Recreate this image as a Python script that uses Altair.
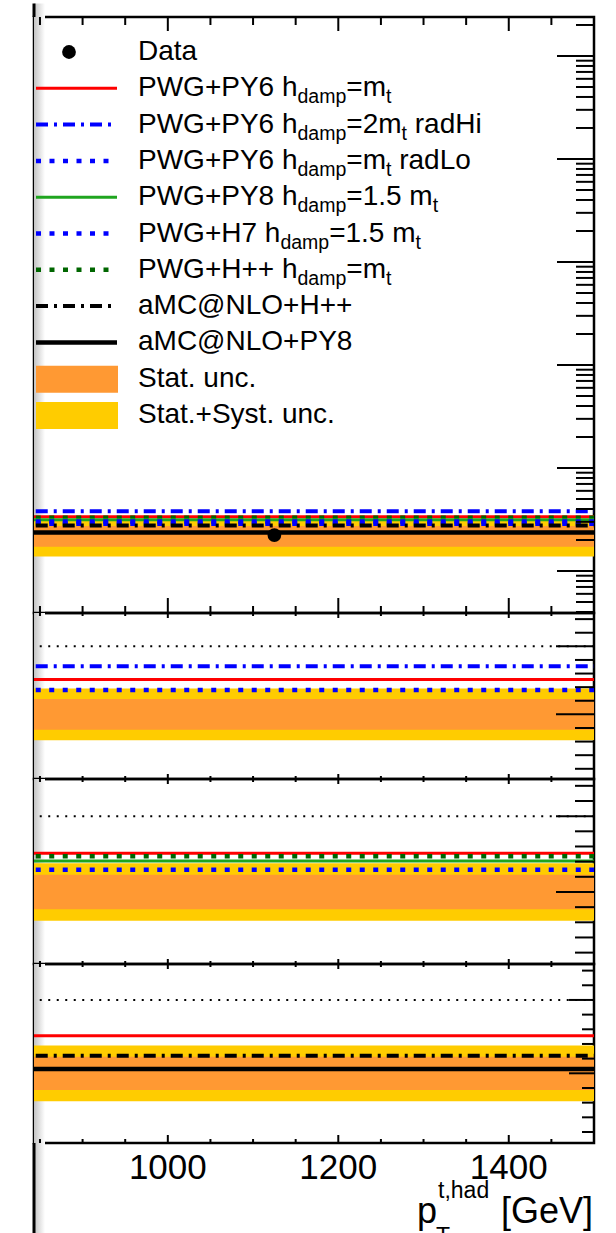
import altair as alt
import pandas as pd

# ---------------- data ----------------
bin_edges = [750, 1500]          # the single visible bin
data_x = [1125]
data_xsec = [2.23e-4]
stat_rel_unc = 0.227
tot_rel_unc = 0.38

model_keys = ["py6", "radhi", "radlo", "py8", "h7", "hpp", "amc_hpp", "amc_py8"]
pred_xsec = [3.37e-4, 3.81e-4, 3.03e-4, 3.14e-4, 2.88e-4, 3.28e-4, 2.76e-4, 2.36e-4]

ratio_panels = [["py6", "radhi", "radlo"],
                ["py6", "hpp", "py8", "h7"],
                ["py6", "amc_hpp", "amc_py8"]]
ratio_ref = [2.0]

x_major = [1000, 1200, 1400]
x_minor = [850, 900, 950, 1050, 1100, 1150, 1250, 1300, 1350, 1450, 1500]
x_labels = ["1000", "1200", "1400"]

top_major = [1e-4, 1e-3, 1e-2, 1e-1, 1.0, 10.0]
top_minor_mult = [2, 3, 4, 5, 6, 7, 8, 9]
top_minor_decades = [1e-5, 1e-4, 1e-3, 1e-2, 1e-1, 1.0, 10.0]
ratio_major = [1.0, 2.0]
ratio_minor = [0.2, 0.4, 0.6, 0.8, 1.2, 1.4, 1.6, 1.8, 2.2, 2.4]

X_DOMAIN = [843, 1500]
TOP_DOMAIN = [3.91e-5, 23.9]
RATIO_DOMAIN = [0.05, 2.49]

legend_rows = [
    [("Data", 0)],
    [("PWG+PY6 h", 0), ("damp", 1), ("=m", 0), ("t", 1)],
    [("PWG+PY6 h", 0), ("damp", 1), ("=2m", 0), ("t", 1), (" radHi", 0)],
    [("PWG+PY6 h", 0), ("damp", 1), ("=m", 0), ("t", 1), (" radLo", 0)],
    [("PWG+PY8 h", 0), ("damp", 1), ("=1.5 m", 0), ("t", 1)],
    [("PWG+H7 h", 0), ("damp", 1), ("=1.5 m", 0), ("t", 1)],
    [("PWG+H++ h", 0), ("damp", 1), ("=m", 0), ("t", 1)],
    [("aMC@NLO+H++", 0)],
    [("aMC@NLO+PY8", 0)],
    [("Stat. unc.", 0)],
    [("Stat.+Syst. unc.", 0)],
]
legend_models = ["py6", "radhi", "radlo", "py8", "h7", "hpp", "amc_hpp", "amc_py8"]

# ---------------- styles ----------------
FONT = "Liberation Sans"
RED, BLUE, GREEN, DGREEN = "#ff0000", "#0000ff", "#1fa51f", "#006600"
ORANGE, YELLOW = "#ff9933", "#ffcc00"
styles = {
    "py6": dict(color=RED, w=3, dash=None),
    "radhi": dict(color=BLUE, w=4, dash=[12, 6, 3, 6]),
    "radlo": dict(color=BLUE, w=4.5, dash=[5, 8.5]),
    "py8": dict(color=GREEN, w=3, dash=None),
    "h7": dict(color=BLUE, w=4.5, dash=[5, 8.5]),
    "hpp": dict(color=DGREEN, w=4.5, dash=[5, 8.5]),
    "amc_hpp": dict(color="black", w=4, dash=[12, 6, 3, 6]),
    "amc_py8": dict(color="black", w=4.5, dash=None),
}

W = 560
H_TOP, H_R = 596, [166, 185, 179]

xs = alt.Scale(domain=X_DOMAIN, nice=False, zero=False)
ys_top = alt.Scale(type="log", domain=TOP_DOMAIN, nice=False)
ys_rat = alt.Scale(domain=RATIO_DOMAIN, nice=False, zero=False)
one = pd.DataFrame({"k": [0]})

pred = dict(zip(model_keys, pred_xsec))


def band(lo, hi, color, ysc):
    df = pd.DataFrame({"x1": [bin_edges[0]], "x2": [bin_edges[1]], "lo": [lo], "hi": [hi]})
    return alt.Chart(df).mark_rect(color=color, clip=True, opacity=1).encode(
        x=alt.X("x1:Q", scale=xs, axis=None), x2="x2:Q",
        y=alt.Y("lo:Q", scale=ysc, axis=None), y2="hi:Q")


def hline(v, st, ysc):
    df = pd.DataFrame({"x1": [bin_edges[0]], "x2": [bin_edges[1]], "v": [v]})
    kw = dict(color=st["color"], strokeWidth=st["w"], clip=True, strokeCap="butt")
    if st["dash"]:
        kw["strokeDash"] = st["dash"]
    return alt.Chart(df).mark_rule(**kw).encode(
        x=alt.X("x1:Q", scale=xs, axis=None), x2="x2:Q",
        y=alt.Y("v:Q", scale=ysc, axis=None))


def yticks(vals, length, ysc):
    df = pd.DataFrame({"t": vals})
    return alt.Chart(df).mark_rule(color="black", strokeWidth=2).encode(
        y=alt.Y("t:Q", scale=ysc, axis=None), x=alt.value(W - length), x2=alt.value(W))


def xticks(vals, y0, y1):
    df = pd.DataFrame({"t": vals})
    return alt.Chart(df).mark_rule(color="black", strokeWidth=2).encode(
        x=alt.X("t:Q", scale=xs, axis=None), y=alt.value(y0), y2=alt.value(y1))


def shadow(y0, y1):
    grad = alt.Gradient(gradient="linear",
                        stops=[alt.GradientStop(color="#c4c4c4", offset=0),
                               alt.GradientStop(color="#ffffff", offset=1)],
                        x1=0, x2=1, y1=0, y2=0)
    return alt.Chart(one).mark_rect(color=grad).encode(
        x=alt.value(0), x2=alt.value(11), y=alt.value(y0), y2=alt.value(y1))


def vrule(y0, y1):
    return alt.Chart(one).mark_rule(color="black", strokeWidth=3).encode(
        x=alt.value(0), y=alt.value(y0), y2=alt.value(y1))


ARIAL = {' ': 278, '+': 584, '=': 584, '.': 278, ',': 278, '@': 1015, '[': 278, ']': 278,
         'C': 722, 'D': 722, 'G': 778, 'H': 722, 'L': 556, 'M': 833, 'N': 722, 'O': 778,
         'P': 667, 'S': 667, 'T': 611, 'V': 667, 'W': 944, 'Y': 667,
         'a': 556, 'c': 500, 'd': 556, 'e': 556, 'h': 556, 'i': 222, 'm': 833, 'n': 556,
         'o': 556, 'p': 556, 'r': 333, 's': 500, 't': 278, 'u': 556, 'y': 500}


def tw(s, size):
    return sum(ARIAL.get(c, 556) for c in s) / 1000.0 * size


def text_piece(txt, x, y, size, align="left"):
    return alt.Chart(one).mark_text(text=txt, font=FONT, fontSize=size, align=align,
                                    baseline="alphabetic", color="black").encode(
        x=alt.value(x), y=alt.value(y))


# ---------------- top panel ----------------
D = data_xsec[0]
top_layers = [shadow(-13.5, H_TOP),
              band(D * (1 - tot_rel_unc), D * (1 + tot_rel_unc), YELLOW, ys_top),
              band(D * (1 - stat_rel_unc), D * (1 + stat_rel_unc), ORANGE, ys_top)]
for k in ["py6", "radhi", "hpp", "py8", "radlo", "h7", "amc_hpp", "amc_py8"]:
    top_layers.append(hline(pred[k], styles[k], ys_top))
top_layers.append(
    alt.Chart(pd.DataFrame({"x": data_x, "y": data_xsec})).mark_point(
        shape="circle", filled=True, size=190, color="black", opacity=1).encode(
        x=alt.X("x:Q", scale=xs, axis=None), y=alt.Y("y:Q", scale=ys_top, axis=None)))

top_minor = [m * d for d in top_minor_decades for m in top_minor_mult
             if TOP_DOMAIN[0] <= m * d <= TOP_DOMAIN[1]]
top_layers += [yticks(top_major, 37, ys_top), yticks(top_minor, 18, ys_top),
               xticks(x_major, 0, 14), xticks(x_minor, 0, 8),
               xticks(x_major, H_TOP - 15, H_TOP), xticks(x_minor, H_TOP - 7, H_TOP),
               vrule(-13.5, 0)]

# legend
FS, SFS = 28, 19.5
LX_SYM0, LX_SYM1, LX_TXT = 2, 83, 104
for i, row in enumerate(legend_rows):
    yc = 48 + 36.3 * i - 15
    if i == 0:
        top_layers.append(alt.Chart(one).mark_point(shape="circle", filled=True, size=190,
                                                    color="black", opacity=1).encode(
            x=alt.value(35), y=alt.value(yc + 2)))
    elif 1 <= i <= 8:
        st = styles[legend_models[i - 1]]
        kw = dict(color=st["color"], strokeWidth=st["w"], strokeCap="butt")
        if st["dash"]:
            kw["strokeDash"] = st["dash"]
        top_layers.append(alt.Chart(one).mark_rule(**kw).encode(
            x=alt.value(LX_SYM0), x2=alt.value(LX_SYM1), y=alt.value(yc + 2)))
    else:
        col = ORANGE if i == 9 else YELLOW
        top_layers.append(alt.Chart(one).mark_rect(color=col).encode(
            x=alt.value(LX_SYM0), x2=alt.value(LX_SYM1 + 1),
            y=alt.value(yc - 11), y2=alt.value(yc + 16)))
    x = LX_TXT
    base = yc + 10
    for txt, sub in row:
        size = SFS if sub else FS
        if txt.startswith(" "):
            x += tw(" ", size)
            txt = txt.lstrip(" ")
        top_layers.append(text_piece(txt, x, base + (7 if sub else 0), size))
        x += tw(txt, size)

top = alt.layer(*top_layers).properties(width=W, height=H_TOP)

# ---------------- ratio panels ----------------
ratio_charts = []
for p, keys in enumerate(ratio_panels):
    H = H_R[p]
    lay = [shadow(0, H + (92 if p == 2 else 0)),
           band(1 - tot_rel_unc, 1 + tot_rel_unc, YELLOW, ys_rat),
           band(1 - stat_rel_unc, 1 + stat_rel_unc, ORANGE, ys_rat)]
    for r in ratio_ref:
        lay.append(hline(r, dict(color="black", w=2, dash=[2, 6.5]), ys_rat))
    for k in keys:
        lay.append(hline(pred[k] / D, styles[k], ys_rat))
    big, small = (38, 19) if p < 2 else (25, 12)
    lay += [yticks(ratio_major, big, ys_rat), yticks(ratio_minor, small, ys_rat),
            xticks(x_major, 0, 5), xticks(x_minor, 0, 3)]
    if p < 2:
        lay += [xticks(x_major, H - 5, H), xticks(x_minor, H - 3, H)]
    else:
        lay += [xticks(x_major, H - 8, H), xticks(x_minor, H - 4, H), vrule(H, H + 92)]
        lay.append(alt.Chart(pd.DataFrame({"t": x_major, "lab": x_labels})).mark_text(
            font=FONT, fontSize=35, align="center", baseline="alphabetic", color="black").encode(
            x=alt.X("t:Q", scale=xs, axis=None), y=alt.value(H + 36), text="lab:N"))
        # axis title p_T^{t,had} [GeV]
        tx = 383
        lay.append(text_piece("p", tx, H + 80, 36))
        lay.append(text_piece("t,had", tx + tw("p", 36) + 1, H + 55, 23))
        lay.append(text_piece("T", tx + tw("p", 36) - 1, H + 101, 23))
        lay.append(text_piece("[GeV]", W - 1, H + 80, 36, align="right"))
    ratio_charts.append(alt.layer(*lay).properties(width=W, height=H))

chart = alt.vconcat(top, *ratio_charts, spacing=0, bounds="flush").properties(
    padding={"left": 31, "top": 0, "right": 10, "bottom": 0},
    background="white",
).configure_view(stroke="black", strokeWidth=2.5)

chart.save("out.html", embed_options={"renderer": "svg", "actions": False})
